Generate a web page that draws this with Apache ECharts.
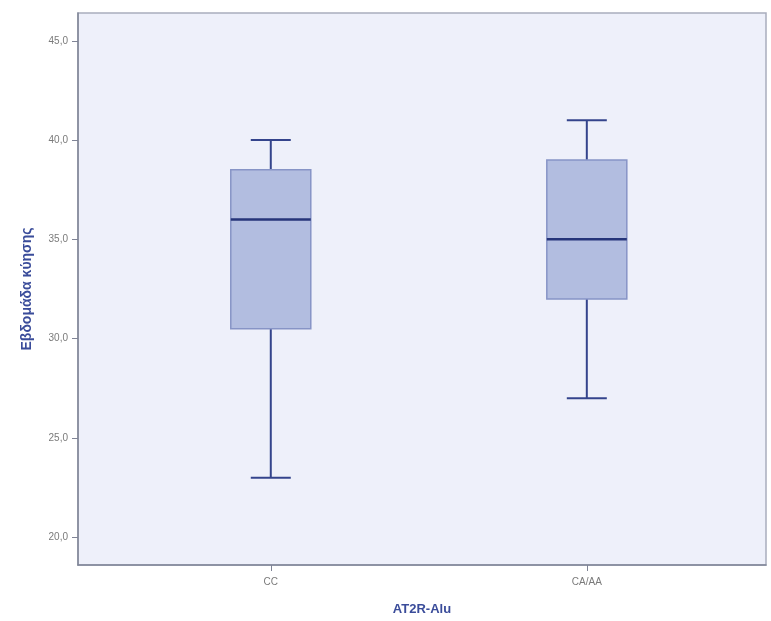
<!DOCTYPE html>
<html>
<head>
<meta charset="utf-8">
<script src="https://cdn.jsdelivr.net/npm/echarts@6/dist/echarts.min.js"></script>
<style>
  html, body { margin: 0; padding: 0; background: #ffffff; }
  #chart { width: 771px; height: 621px; }
</style>
</head>
<body>
<div id="chart"></div>
<script>
// ---- Data ----
const categories = ['CC', 'CA/AA'];
const minVals    = [23.0, 27.0];
const q1Vals     = [30.5, 32.0];
const medianVals = [36.0, 35.0];
const q3Vals     = [38.5, 39.0];
const maxVals    = [40.0, 41.0];
const yTickValues = [20, 25, 30, 35, 40, 45];
const xTickValues = [0, 1];
const yAxisTitle = 'Εβδομάδα κύησης';
const xAxisTitle = 'AT2R-Alu';

const seriesData = categories.map((c, i) => [i, minVals[i], q1Vals[i], medianVals[i], q3Vals[i], maxVals[i]]);

const BOX_HALF = 40;
const CAP_HALF = 20;
const whiskerColor = '#34448c';

function renderItem(params, api) {
  const x = api.value(0);
  const pMin = api.coord([x, api.value(1)]);
  const pQ1 = api.coord([x, api.value(2)]);
  const pMed = api.coord([x, api.value(3)]);
  const pQ3 = api.coord([x, api.value(4)]);
  const pMax = api.coord([x, api.value(5)]);
  const cx = pMed[0];
  const lineStyle = { stroke: whiskerColor, lineWidth: 2 };
  return {
    type: 'group',
    children: [
      { type: 'line', shape: { x1: cx, y1: pQ3[1], x2: cx, y2: pMax[1] }, style: lineStyle },
      { type: 'line', shape: { x1: cx, y1: pQ1[1], x2: cx, y2: pMin[1] }, style: lineStyle },
      { type: 'line', shape: { x1: cx - CAP_HALF, y1: pMax[1], x2: cx + CAP_HALF, y2: pMax[1] }, style: lineStyle },
      { type: 'line', shape: { x1: cx - CAP_HALF, y1: pMin[1], x2: cx + CAP_HALF, y2: pMin[1] }, style: lineStyle },
      { type: 'rect', shape: { x: cx - BOX_HALF, y: pQ3[1], width: BOX_HALF * 2, height: pQ1[1] - pQ3[1] },
        style: { fill: '#b2bde0', stroke: '#8794c6', lineWidth: 1.5 } },
      { type: 'line', shape: { x1: cx - BOX_HALF, y1: pMed[1], x2: cx + BOX_HALF, y2: pMed[1] },
        style: { stroke: '#26357a', lineWidth: 2.5 } }
    ]
  };
}

const chart = echarts.init(document.getElementById('chart'), null, { renderer: 'canvas' });
chart.setOption({
  backgroundColor: '#ffffff',
  animation: false,
  grid: {
    left: 78, right: 5, top: 13, bottom: 54,
    show: true, backgroundColor: '#eef0fa', borderColor: '#a9adbd', borderWidth: 1.5
  },
  xAxis: {
    type: 'value',
    min: -0.61, max: 1.567,
    name: xAxisTitle,
    nameLocation: 'middle',
    nameGap: 38,
    nameTextStyle: { fontFamily: 'Liberation Sans', fontWeight: 'bold', fontSize: 13, color: '#3a4c9a' },
    axisLine: { show: true, onZero: false, lineStyle: { color: '#7f8496', width: 1.5 } },
    axisTick: { show: true, length: 6, customValues: xTickValues, lineStyle: { color: '#7f8496' } },
    axisLabel: {
      customValues: xTickValues,
      formatter: v => categories[Math.round(v)] ?? '',
      fontFamily: 'Liberation Sans', fontSize: 10, color: '#7a7a7a', margin: 12
    },
    splitLine: { show: false }
  },
  yAxis: {
    type: 'value',
    min: 18.6, max: 46.4,
    name: yAxisTitle,
    nameLocation: 'middle',
    nameGap: 44,
    nameTextStyle: { fontFamily: 'Liberation Sans', fontWeight: 'bold', fontSize: 14, color: '#3a4c9a' },
    axisLine: { show: true, onZero: false, lineStyle: { color: '#7f8496', width: 1.5 } },
    axisTick: { show: true, length: 6, customValues: yTickValues, lineStyle: { color: '#7f8496' } },
    axisLabel: {
      customValues: yTickValues,
      formatter: v => v.toFixed(1).replace('.', ','),
      fontFamily: 'Liberation Sans', fontSize: 10, color: '#7a7a7a', margin: 10
    },
    splitLine: { show: false }
  },
  series: [{
    type: 'custom',
    renderItem: renderItem,
    encode: { x: 0, y: [1, 2, 3, 4, 5] },
    data: seriesData
  }]
});
</script>
</body>
</html>
